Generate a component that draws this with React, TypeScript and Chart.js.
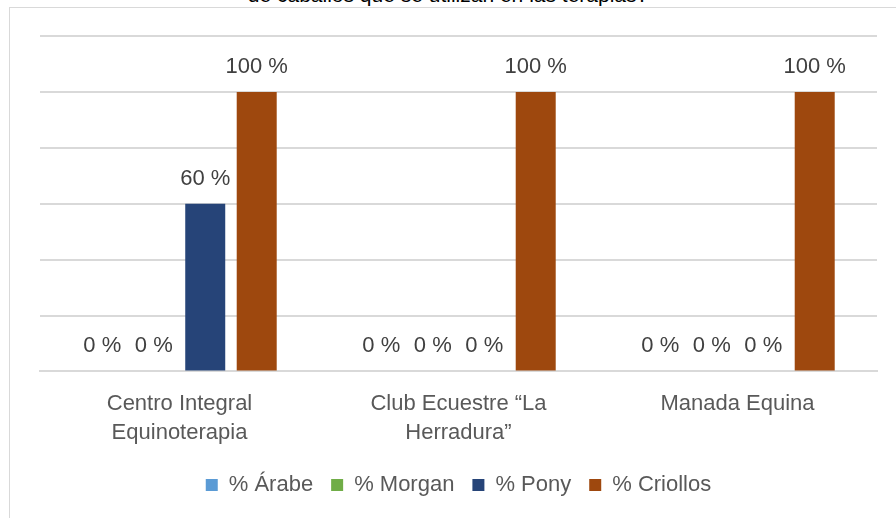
import React, { useEffect, useRef } from "react";
import { Chart, registerables } from "chart.js";

Chart.register(...registerables);

const categories: (string | string[])[] = [
  ["Centro Integral", "Equinoterapia"],
  ["Club Ecuestre “La", "Herradura”"],
  "Manada Equina",
];
const seriesNames = ["% Árabe", "% Morgan", "% Pony", "% Criollos"];
const arabe = [0, 0, 0];
const morgan = [0, 0, 0];
const pony = [60, 0, 0];
const criollos = [100, 100, 100];
const seriesColors = ["#5b9bd5", "#70ad47", "#264478", "#9e480e"];
const yMax = 120;
const yStep = 20;
const titleText = "de caballos que se utilizan en las terapias?";

const FONT = "'Liberation Sans', Arial, sans-serif";

const dataLabelPlugin = {
  id: "dataLabels",
  afterDatasetsDraw(chart: any) {
    const ctx = chart.ctx;
    ctx.save();
    ctx.font = `22px ${FONT}`;
    ctx.fillStyle = "#404040";
    ctx.textAlign = "center";
    ctx.textBaseline = "middle";
    chart.data.datasets.forEach((ds: any, di: number) => {
      const meta = chart.getDatasetMeta(di);
      meta.data.forEach((el: any, i: number) => {
        const v = ds.data[i];
        ctx.fillText(`${v} %`, el.x, el.y - 25);
      });
    });
    ctx.restore();
  },
};

export default function App() {
  const ref = useRef<HTMLCanvasElement | null>(null);
  useEffect(() => {
    if (!ref.current) return;
    const values = [arabe, morgan, pony, criollos];
    const chart = new Chart(ref.current, {
      type: "bar",
      data: {
        labels: categories,
        datasets: seriesNames.map((name, i) => ({
          label: name,
          data: values[i],
          backgroundColor: seriesColors[i],
          borderWidth: 0,
          categoryPercentage: 0.738,
          barPercentage: 0.777,
        })),
      },
      options: {
        responsive: false,
        animation: false,
        layout: { padding: { left: 40, right: 19, top: 36, bottom: 12 } },
        plugins: {
          title: { display: false },
          tooltip: { enabled: false },
          legend: {
            position: "bottom",
            labels: {
              boxWidth: 12,
              boxHeight: 12,
              padding: 18,
              color: "#595959",
              font: { family: FONT, size: 22 },
            },
          },
        },
        scales: {
          x: {
            grid: { display: false, drawTicks: false },
            border: { display: true, color: "#d9d9d9", width: 2 },
            ticks: {
              color: "#595959",
              padding: 17.5,
              font: { family: FONT, size: 22, lineHeight: 1.32 },
              maxRotation: 0,
            },
            afterFit: (scale: any) => {
              scale.height -= 8.5;
            },
          },
          y: {
            min: 0,
            max: yMax,
            ticks: { display: false, stepSize: yStep },
            grid: { color: "#d9d9d9", lineWidth: 2, drawTicks: false },
            border: { display: false },
          },
        },
      },
      plugins: [dataLabelPlugin],
    });
    return () => chart.destroy();
  }, []);

  return (
    <div style={{ position: "absolute", left: 0, top: 0, width: 896, height: 518, overflow: "hidden", background: "#fff" }}>
      <div
        style={{
          position: "absolute",
          left: 0,
          top: -16,
          width: 896,
          textAlign: "center",
          fontFamily: FONT,
          fontSize: 21,
          lineHeight: "21px",
          color: "#000",
        }}
      >
        {titleText}
      </div>
      <div
        style={{
          position: "absolute",
          left: 9,
          top: 7,
          width: 1000,
          height: 600,
          border: "1px solid #d9d9d9",
        }}
      />
      <canvas ref={ref} width={896} height={518} style={{ position: "absolute", left: 0, top: 0 }} />
    </div>
  );
}
